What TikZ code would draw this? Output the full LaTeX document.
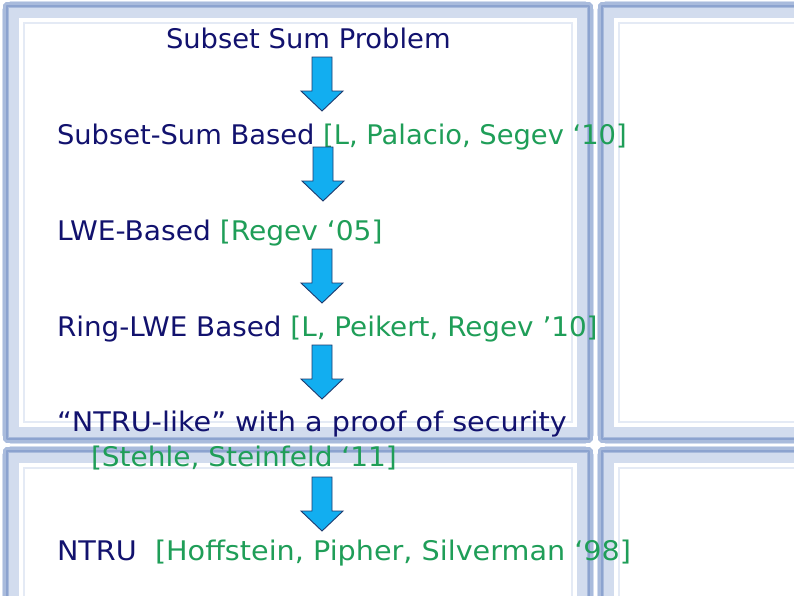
\documentclass[tikz,border=0pt]{standalone}
\usepackage{fontspec}
\setmainfont{DejaVu Sans}
\begin{document}
\begin{tikzpicture}[x=1pt,y=-1pt,
  every node/.style={inner sep=0pt,outer sep=0pt,anchor=base west,font=\fontsize{27}{30}\selectfont},
  navytext/.style={text=navyc},
  band/.style={draw=frameLight,line width=17pt,line join=bevel},
  bandDark/.style={draw=frameDark,line width=6pt,line join=bevel},
  bandLine/.style={draw=frameLine,line width=1.6pt,line join=bevel},
  bandFaint/.style={draw=frameFaint,line width=1.2pt},
  blockarrow/.style={fill=arrowfill,draw=arrowline,line width=0.9pt,line join=miter},
  pics/downarr/.style={code={
    \draw[blockarrow] (-10,0) -- (10,0) -- (10,34) -- (21,34) -- (0,54) -- (-21,34) -- (-10,34) -- cycle;}}
]
\definecolor{navyc}{HTML}{12126E}
\definecolor{greenc}{HTML}{1F9E58}
\definecolor{frameLight}{HTML}{D2DCEE}
\definecolor{frameDark}{HTML}{A9BBDC}
\definecolor{frameLine}{HTML}{8CA3CF}
\definecolor{frameFaint}{HTML}{E4EAF5}
\definecolor{arrowfill}{HTML}{12AEF0}
\definecolor{arrowline}{HTML}{1E3A6E}
\useasboundingbox (0,0) rectangle (794,595);
\fill[white] (0,0) rectangle (794,595);
\begin{scope}
\clip (0,0) rectangle (794,595);
% panels: outer rectangles
\foreach \xa/\ya/\xb/\yb in {2/1/594/444, 597/1/830/444, 2/446/594/640, 597/446/830/640}{
  \draw[band] (\xa+8.5,\ya+8.5) rectangle (\xb-8.5,\yb-8.5);
  \draw[bandDark] (\xa+4,\ya+4) rectangle (\xb-4,\yb-4);
  \draw[bandLine] (\xa+5,\ya+5) rectangle (\xb-5,\yb-5);
  \draw[bandFaint] (\xa+22,\ya+22) rectangle (\xb-22,\yb-22);
}
\end{scope}
% text
\node[navytext] (t1) at (166,48) {\scalebox{1.014}[1]{Subset Sum Problem}};
\node[navytext] (t2) at (57,144) {\scalebox{1.012}[1]{Subset-Sum Based \textcolor{greenc}{[L, Palacio, Segev ‘10]}}};
\node[navytext] (t3) at (57,240) {\scalebox{1.04}[1]{LWE-Based \textcolor{greenc}{[Regev ‘05]}}};
\node[navytext] (t4) at (57,336) {\scalebox{1.03}[1]{Ring-LWE Based \textcolor{greenc}{[L, Peikert, Regev ’10]}}};
\node[navytext] (t5) at (57,431) {\scalebox{1.062}[1]{“NTRU-like” with a proof of security}};
\node[text=greenc] (t5b) at (91,466) {\scalebox{1.037}[1]{[Stehle, Steinfeld ‘11]}};
\node[navytext] (t6) at (57,560) {\scalebox{1.061}[1]{NTRU\ \ \textcolor{greenc}{[Hoffstein, Pipher, Silverman ‘98]}}};
% arrows
\pic (a1) at (322,57) {downarr};
\pic (a2) at (323,147) {downarr};
\pic (a3) at (322,249) {downarr};
\pic (a4) at (322,345) {downarr};
\pic (a5) at (322,477) {downarr};
\end{tikzpicture}
\end{document}
